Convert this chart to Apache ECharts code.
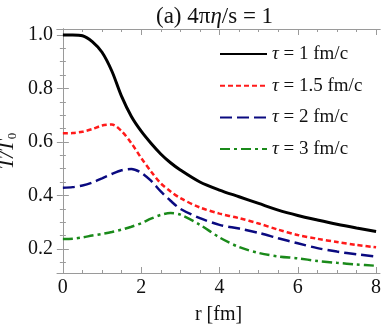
<!DOCTYPE html>
<html>
<head>
<meta charset="utf-8">
<script src="https://cdn.jsdelivr.net/npm/echarts@6/dist/echarts.min.js"></script>
<style>
  html, body { margin: 0; padding: 0; background: #fff; }
  #main { width: 382px; height: 325px; }
</style>
</head>
<body>
<div id="main"></div>
<script>
// radial grid, fm
var rValues = [0, 0.25, 0.5, 0.75, 1, 1.25, 1.5, 1.75, 2, 2.25, 2.5, 2.75, 3, 3.5, 4, 4.5, 5, 5.5, 6, 6.5, 7, 7.5, 8];
// T/T0 for each tau
var tau1 = [1.0, 1.0, 0.997, 0.975, 0.935, 0.865, 0.77, 0.695, 0.64, 0.595, 0.555, 0.522, 0.495, 0.45, 0.42, 0.395, 0.37, 0.345, 0.325, 0.308, 0.292, 0.278, 0.265];
var tau15 = [0.632, 0.633, 0.638, 0.648, 0.661, 0.665, 0.64, 0.595, 0.54, 0.49, 0.445, 0.415, 0.39, 0.355, 0.332, 0.315, 0.295, 0.272, 0.252, 0.238, 0.226, 0.215, 0.206];
var tau2 = [0.429, 0.431, 0.437, 0.448, 0.464, 0.48, 0.494, 0.499, 0.485, 0.455, 0.415, 0.38, 0.35, 0.315, 0.29, 0.276, 0.26, 0.24, 0.221, 0.203, 0.19, 0.18, 0.171];
var tau3 = [0.237, 0.238, 0.243, 0.25, 0.256, 0.263, 0.272, 0.283, 0.296, 0.313, 0.327, 0.334, 0.328, 0.29, 0.243, 0.207, 0.185, 0.172, 0.165, 0.155, 0.148, 0.142, 0.137];
var seriesNames = ['τ = 1 fm/c', 'τ = 1.5 fm/c', 'τ = 2 fm/c', 'τ = 3 fm/c'];

var xMajor = [0, 2, 4, 6, 8];
var xMinor = [0.5, 1, 1.5, 2.5, 3, 3.5, 4.5, 5, 5.5, 6.5, 7, 7.5];
var yMajor = [0.2, 0.4, 0.6, 0.8, 1.0];
var yMinor = [0.15, 0.25, 0.3, 0.35, 0.45, 0.5, 0.55, 0.65, 0.7, 0.75, 0.85, 0.9, 0.95];

var serif = '"Liberation Serif", "DejaVu Serif", serif';
var frameColor = '#9a9a9a';

function pairs(ys) {
    return rValues.map(function (r, i) { return [r, ys[i]]; });
}

function xAx(pos, ticks, len, label) {
    return {
        type: 'value', position: pos, min: -0.15, max: 8.1,
        axisLine: { show: label || pos === 'top', lineStyle: { color: frameColor, width: 1 } },
        axisTick: { show: true, inside: true, length: len, customValues: ticks, lineStyle: { color: frameColor } },
        axisLabel: label ? { customValues: ticks, color: '#111', fontFamily: serif, fontSize: 20, margin: 5 } : { show: false },
        splitLine: { show: false },
        name: label ? 'r [fm]' : '',
        nameLocation: 'middle', nameGap: 32, nameMoveOverlap: false,
        nameTextStyle: { color: '#111', fontFamily: serif, fontSize: 20 }
    };
}

function yAx(pos, ticks, len, label) {
    return {
        type: 'value', position: pos, min: 0.11, max: 1.022,
        axisLine: { show: label || pos === 'right', lineStyle: { color: frameColor, width: 1 } },
        axisTick: { show: true, inside: true, length: len, customValues: ticks, lineStyle: { color: frameColor } },
        axisLabel: label ? {
            customValues: ticks, color: '#111', fontFamily: serif, fontSize: 20, margin: 4,
            formatter: function (v) { return v.toFixed(1); }
        } : { show: false },
        splitLine: { show: false },
        name: label ? '{i|T/T}{s|0}' : '',
        nameLocation: 'middle', nameGap: 38, nameRotate: 90, nameMoveOverlap: false,
        nameTextStyle: {
            color: '#111', fontFamily: serif, fontSize: 20,
            rich: {
                i: { fontFamily: serif, fontSize: 21, fontStyle: 'italic', color: '#111' },
                s: { fontFamily: serif, fontSize: 13, color: '#111', verticalAlign: 'bottom', padding: [10, 0, 0, 1] }
            }
        }
    };
}

function line(idx, data, color, type, width) {
    return {
        name: seriesNames[idx], type: 'line', data: pairs(data),
        xAxisIndex: 0, yAxisIndex: 0,
        showSymbol: false, symbol: 'none', smooth: 0.3,
        lineStyle: { color: color, width: width, type: type, cap: 'butt' },
        itemStyle: { color: color },
        animation: false
    };
}

var chart = echarts.init(document.getElementById('main'));
chart.setOption({
    animation: false,
    title: {
        text: '(a) 4π{i|η}/s = 1',
        left: 151, top: 0,
        textStyle: {
            fontFamily: serif, fontSize: 23, fontWeight: 'normal', color: '#111',
            rich: { i: { fontFamily: serif, fontSize: 23, fontStyle: 'italic', color: '#111' } }
        }
    },
    grid: { left: 57, right: 2, top: 29, bottom: 52, containLabel: false, outerBoundsMode: 'none' },
    legend: {
        orient: 'vertical', left: 214, top: 39,
        itemWidth: 47, itemHeight: 20, itemGap: 11.7,
        itemStyle: { opacity: 0 },
        data: seriesNames,
        formatter: function (n) { return '{i|τ}' + n.slice(1); },
        textStyle: {
            fontFamily: serif, fontSize: 19, color: '#111', lineHeight: 20,
            rich: { i: { fontFamily: serif, fontSize: 19, fontStyle: 'italic', color: '#111', lineHeight: 20 } }
        }
    },
    xAxis: [
        xAx('bottom', xMajor, 6, true),
        xAx('bottom', xMinor, 3, false),
        xAx('top', xMajor, 6, false),
        xAx('top', xMinor, 3, false)
    ],
    yAxis: [
        yAx('left', yMajor, 6, true),
        yAx('left', yMinor, 3, false),
        yAx('right', yMajor, 6, false),
        yAx('right', yMinor, 3, false)
    ],
    series: [
        line(0, tau1, '#000000', 'solid', 3),
        line(1, tau15, '#ff1a1a', [5, 3], 2.5),
        line(2, tau2, '#0a0a80', [12, 5], 2.5),
        line(3, tau3, '#1a8a1a', [10, 4, 3, 4], 2.5)
    ]
});
</script>
</body>
</html>
